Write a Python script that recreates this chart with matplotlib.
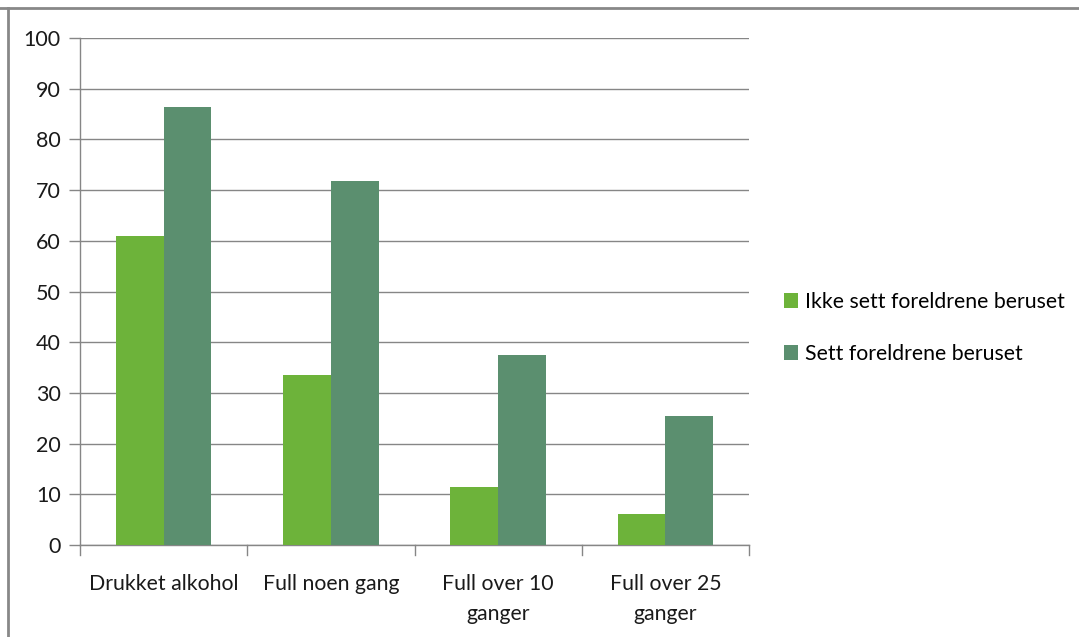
import matplotlib
matplotlib.use("Agg")
import matplotlib.pyplot as plt
import numpy as np
from matplotlib.patches import Patch
from matplotlib.lines import Line2D

categories = ["Drukket alkohol", "Full noen gang", "Full over 10\nganger", "Full over 25\nganger"]
series_names = ["Ikke sett foreldrene beruset", "Sett foreldrene beruset"]
ikke_sett = [61.0, 33.5, 11.5, 6.2]
sett = [86.3, 71.8, 37.5, 25.4]
yticks = list(range(0, 101, 10))

light_green = "#6DB33A"
dark_green = "#5B8F6F"
grid_col = "#868686"

plt.rcParams["font.family"] = ["Lato", "DejaVu Sans"]

W, H = 1079, 637
fig = plt.figure(figsize=(W / 100, H / 100), dpi=100)
ax = fig.add_axes([80 / W, 1 - 545 / H, (749 - 80) / W, (545 - 38) / H])

x = np.arange(len(categories))
bw = 1 / 3.5
ax.bar(x - bw / 2, ikke_sett, width=bw, color=light_green, zorder=3)
ax.bar(x + bw / 2, sett, width=bw, color=dark_green, zorder=3)

ax.set_xlim(-0.5, len(categories) - 0.5)
ax.set_ylim(0, 100)
ax.set_yticks(yticks)
ax.set_yticklabels([str(v) for v in yticks], fontsize=15.5, color="#1a1a1a")
ax.yaxis.grid(True, color=grid_col, linewidth=1.0, zorder=0)
ax.set_axisbelow(True)

ax.set_xticks(x)
ax.set_xticklabels(categories, fontsize=15.3, color="#1a1a1a", linespacing=1.6)
ax.tick_params(axis="x", length=0, pad=21)
ax.tick_params(axis="y", length=8, color=grid_col, width=1.0, pad=6)

# category boundary ticks below the axis
for b in np.arange(-0.5, len(categories), 1.0):
    ax.add_line(Line2D([b, b], [0, -2.0], color=grid_col, linewidth=1.0,
                       clip_on=False, transform=ax.transData))

for side in ["top", "right"]:
    ax.spines[side].set_visible(False)
for side in ["left", "bottom"]:
    ax.spines[side].set_color(grid_col)
    ax.spines[side].set_linewidth(1.0)

# chart frame (top and left edges)
fig.add_artist(Line2D([0, 1], [1 - 8 / H, 1 - 8 / H], color="#888888", linewidth=2.0,
                      transform=fig.transFigure))
fig.add_artist(Line2D([8 / W, 8 / W], [0, 1 - 8 / H], color="#888888", linewidth=2.0,
                      transform=fig.transFigure))

handles = [Patch(facecolor=light_green, edgecolor="none"),
           Patch(facecolor=dark_green, edgecolor="none")]
fig.legend(handles, series_names, loc="center left",
           bbox_to_anchor=(765 / W, 1 - 328 / H), frameon=False, fontsize=15.3,
           handlelength=0.65, handleheight=0.75, handletextpad=0.35, labelspacing=1.5)

fig.savefig("out.png", dpi=100, facecolor="white")
